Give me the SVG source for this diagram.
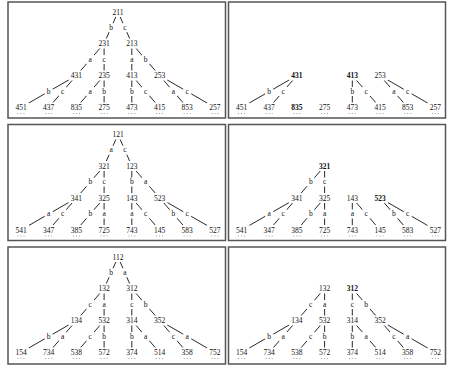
<svg xmlns="http://www.w3.org/2000/svg" width="449" height="368" viewBox="0 0 449 368">
<style>
.frame{fill:#fff;stroke:#555;stroke-width:1.5}
.edge{fill:none;stroke:#111;stroke-width:0.9}
.bx{fill:#fff}
.dot{fill:none;stroke:#888;stroke-width:0.8;stroke-dasharray:1 2}
text{font-family:"Liberation Serif","Times New Roman",serif;font-size:7.5px;fill:#111;text-anchor:middle}
.bold{font-weight:bold}
</style>
<rect width="449" height="368" fill="#fff"/>

<!-- Panel 1 -->
<g id="panel1">
<rect class="frame" x="8" y="2" width="217.5" height="116"/>
<g id="p1-connectors">
<path class="edge" d="M118,12L104.1,43.5M118,12L131.8,43.5M104.1,43.5L76.4,75.5M104.1,43.5L104.1,75.5M131.8,43.5L131.8,75.5M131.8,43.5L159.5,75.5M76.4,75.5L21,107.5M76.4,75.5L48.7,107.5M104.1,75.5L76.4,107.5M104.1,75.5L104.1,107.5M131.8,75.5L131.8,107.5M131.8,75.5L159.5,107.5M159.5,75.5L187.2,107.5M159.5,75.5L214.9,107.5"/>
</g>
<g id="p1-labels">
<rect class="bx" x="107.1" y="23.2" width="8" height="9"/><text x="111.05" y="29.8">b</text>
<rect class="bx" x="120.9" y="23.2" width="8" height="9"/><text x="124.9" y="29.8">c</text>
<rect class="bx" x="86.25" y="55" width="8" height="9"/><text x="90.25" y="61.5">a</text>
<rect class="bx" x="100.1" y="55" width="8" height="9"/><text x="104.1" y="61.5">c</text>
<rect class="bx" x="127.8" y="55" width="8" height="9"/><text x="131.8" y="61.5">a</text>
<rect class="bx" x="141.65" y="55" width="8" height="9"/><text x="145.65" y="61.5">b</text>
<rect class="bx" x="44.7" y="87" width="8" height="9"/><text x="48.7" y="93.5">b</text>
<rect class="bx" x="58.55" y="87" width="8" height="9"/><text x="62.55" y="93.5">c</text>
<rect class="bx" x="86.25" y="87" width="8" height="9"/><text x="90.25" y="93.5">a</text>
<rect class="bx" x="100.1" y="87" width="8" height="9"/><text x="104.1" y="93.5">b</text>
<rect class="bx" x="127.8" y="87" width="8" height="9"/><text x="131.8" y="93.5">b</text>
<rect class="bx" x="141.65" y="87" width="8" height="9"/><text x="145.65" y="93.5">c</text>
<rect class="bx" x="169.35" y="87" width="8" height="9"/><text x="173.35" y="93.5">a</text>
<rect class="bx" x="183.2" y="87" width="8" height="9"/><text x="187.2" y="93.5">c</text>
</g>
<g id="p1-n211"><rect class="bx" x="110" y="7" width="16" height="10"/><text x="118" y="14.6">211</text></g>
<g id="p1-n231"><rect class="bx" x="96.1" y="38.5" width="16" height="10"/><text x="104.1" y="46.1">231</text></g>
<g id="p1-n213"><rect class="bx" x="123.8" y="38.5" width="16" height="10"/><text x="131.8" y="46.1">213</text></g>
<g id="p1-n431"><rect class="bx" x="68.4" y="70.5" width="16" height="10"/><text x="76.4" y="78.1">431</text></g>
<g id="p1-n235"><rect class="bx" x="96.1" y="70.5" width="16" height="10"/><text x="104.1" y="78.1">235</text></g>
<g id="p1-n413"><rect class="bx" x="123.8" y="70.5" width="16" height="10"/><text x="131.8" y="78.1">413</text></g>
<g id="p1-n253"><rect class="bx" x="151.5" y="70.5" width="16" height="10"/><text x="159.5" y="78.1">253</text></g>
<g id="p1-n451"><rect class="bx" x="13" y="102.5" width="16" height="10"/><text x="21" y="110.1">451</text><path class="dot" d="M17.5,113.5h7"/></g>
<g id="p1-n437"><rect class="bx" x="40.7" y="102.5" width="16" height="10"/><text x="48.7" y="110.1">437</text><path class="dot" d="M45.2,113.5h7"/></g>
<g id="p1-n835"><rect class="bx" x="68.4" y="102.5" width="16" height="10"/><text x="76.4" y="110.1">835</text><path class="dot" d="M72.9,113.5h7"/></g>
<g id="p1-n275"><rect class="bx" x="96.1" y="102.5" width="16" height="10"/><text x="104.1" y="110.1">275</text><path class="dot" d="M100.6,113.5h7"/></g>
<g id="p1-n473"><rect class="bx" x="123.8" y="102.5" width="16" height="10"/><text x="131.8" y="110.1">473</text><path class="dot" d="M128.3,113.5h7"/></g>
<g id="p1-n415"><rect class="bx" x="151.5" y="102.5" width="16" height="10"/><text x="159.5" y="110.1">415</text><path class="dot" d="M156,113.5h7"/></g>
<g id="p1-n853"><rect class="bx" x="179.2" y="102.5" width="16" height="10"/><text x="187.2" y="110.1">853</text><path class="dot" d="M183.7,113.5h7"/></g>
<g id="p1-n257"><rect class="bx" x="206.9" y="102.5" width="16" height="10"/><text x="214.9" y="110.1">257</text><path class="dot" d="M211.4,113.5h7"/></g>
</g>

<!-- Panel 2 -->
<g id="panel2" transform="translate(220.5,0)">
<rect class="frame" x="8" y="2" width="217" height="116"/>
<g id="p2-connectors">
<path class="edge" d="M76.4,75.5L21,107.5M76.4,75.5L48.7,107.5M131.8,75.5L131.8,107.5M131.8,75.5L159.5,107.5M159.5,75.5L187.2,107.5M159.5,75.5L214.9,107.5"/>
</g>
<g id="p2-labels">
<rect class="bx" x="44.7" y="87" width="8" height="9"/><text x="48.7" y="93.5">b</text>
<rect class="bx" x="58.55" y="87" width="8" height="9"/><text x="62.55" y="93.5">c</text>
<rect class="bx" x="127.8" y="87" width="8" height="9"/><text x="131.8" y="93.5">b</text>
<rect class="bx" x="141.65" y="87" width="8" height="9"/><text x="145.65" y="93.5">c</text>
<rect class="bx" x="169.35" y="87" width="8" height="9"/><text x="173.35" y="93.5">a</text>
<rect class="bx" x="183.2" y="87" width="8" height="9"/><text x="187.2" y="93.5">c</text>
</g>
<g id="p2-n431"><rect class="bx" x="68.4" y="70.5" width="16" height="10"/><text class="bold" x="76.4" y="78.1">431</text></g>
<g id="p2-n413"><rect class="bx" x="123.8" y="70.5" width="16" height="10"/><text class="bold" x="131.8" y="78.1">413</text></g>
<g id="p2-n253"><rect class="bx" x="151.5" y="70.5" width="16" height="10"/><text x="159.5" y="78.1">253</text></g>
<g id="p2-n451"><rect class="bx" x="13" y="102.5" width="16" height="10"/><text x="21" y="110.1">451</text><path class="dot" d="M17.5,113.5h7"/></g>
<g id="p2-n437"><rect class="bx" x="40.7" y="102.5" width="16" height="10"/><text x="48.7" y="110.1">437</text><path class="dot" d="M45.2,113.5h7"/></g>
<g id="p2-n835"><rect class="bx" x="68.4" y="102.5" width="16" height="10"/><text class="bold" x="76.4" y="110.1">835</text><path class="dot" d="M72.9,113.5h7"/></g>
<g id="p2-n275"><rect class="bx" x="96.1" y="102.5" width="16" height="10"/><text x="104.1" y="110.1">275</text><path class="dot" d="M100.6,113.5h7"/></g>
<g id="p2-n473"><rect class="bx" x="123.8" y="102.5" width="16" height="10"/><text x="131.8" y="110.1">473</text><path class="dot" d="M128.3,113.5h7"/></g>
<g id="p2-n415"><rect class="bx" x="151.5" y="102.5" width="16" height="10"/><text x="159.5" y="110.1">415</text><path class="dot" d="M156,113.5h7"/></g>
<g id="p2-n853"><rect class="bx" x="179.2" y="102.5" width="16" height="10"/><text x="187.2" y="110.1">853</text><path class="dot" d="M183.7,113.5h7"/></g>
<g id="p2-n257"><rect class="bx" x="206.9" y="102.5" width="16" height="10"/><text x="214.9" y="110.1">257</text><path class="dot" d="M211.4,113.5h7"/></g>
</g>

<!-- Panel 3 -->
<g id="panel3" transform="translate(0,122.5)">
<rect class="frame" x="8" y="2" width="217.5" height="116"/>
<g id="p3-connectors">
<path class="edge" d="M118,12L104.1,43.5M118,12L131.8,43.5M104.1,43.5L76.4,75.5M104.1,43.5L104.1,75.5M131.8,43.5L131.8,75.5M131.8,43.5L159.5,75.5M76.4,75.5L21,107.5M76.4,75.5L48.7,107.5M104.1,75.5L76.4,107.5M104.1,75.5L104.1,107.5M131.8,75.5L131.8,107.5M131.8,75.5L159.5,107.5M159.5,75.5L187.2,107.5M159.5,75.5L214.9,107.5"/>
</g>
<g id="p3-labels">
<rect class="bx" x="107.1" y="23.2" width="8" height="9"/><text x="111.05" y="29.8">a</text>
<rect class="bx" x="120.9" y="23.2" width="8" height="9"/><text x="124.9" y="29.8">c</text>
<rect class="bx" x="86.25" y="55" width="8" height="9"/><text x="90.25" y="61.5">b</text>
<rect class="bx" x="100.1" y="55" width="8" height="9"/><text x="104.1" y="61.5">c</text>
<rect class="bx" x="127.8" y="55" width="8" height="9"/><text x="131.8" y="61.5">b</text>
<rect class="bx" x="141.65" y="55" width="8" height="9"/><text x="145.65" y="61.5">a</text>
<rect class="bx" x="44.7" y="87" width="8" height="9"/><text x="48.7" y="93.5">a</text>
<rect class="bx" x="58.55" y="87" width="8" height="9"/><text x="62.55" y="93.5">c</text>
<rect class="bx" x="86.25" y="87" width="8" height="9"/><text x="90.25" y="93.5">b</text>
<rect class="bx" x="100.1" y="87" width="8" height="9"/><text x="104.1" y="93.5">a</text>
<rect class="bx" x="127.8" y="87" width="8" height="9"/><text x="131.8" y="93.5">a</text>
<rect class="bx" x="141.65" y="87" width="8" height="9"/><text x="145.65" y="93.5">c</text>
<rect class="bx" x="169.35" y="87" width="8" height="9"/><text x="173.35" y="93.5">b</text>
<rect class="bx" x="183.2" y="87" width="8" height="9"/><text x="187.2" y="93.5">c</text>
</g>
<g id="p3-n121"><rect class="bx" x="110" y="7" width="16" height="10"/><text x="118" y="14.6">121</text></g>
<g id="p3-n321"><rect class="bx" x="96.1" y="38.5" width="16" height="10"/><text x="104.1" y="46.1">321</text></g>
<g id="p3-n123"><rect class="bx" x="123.8" y="38.5" width="16" height="10"/><text x="131.8" y="46.1">123</text></g>
<g id="p3-n341"><rect class="bx" x="68.4" y="70.5" width="16" height="10"/><text x="76.4" y="78.1">341</text></g>
<g id="p3-n325"><rect class="bx" x="96.1" y="70.5" width="16" height="10"/><text x="104.1" y="78.1">325</text></g>
<g id="p3-n143"><rect class="bx" x="123.8" y="70.5" width="16" height="10"/><text x="131.8" y="78.1">143</text></g>
<g id="p3-n523"><rect class="bx" x="151.5" y="70.5" width="16" height="10"/><text x="159.5" y="78.1">523</text></g>
<g id="p3-n541"><rect class="bx" x="13" y="102.5" width="16" height="10"/><text x="21" y="110.1">541</text><path class="dot" d="M17.5,113.5h7"/></g>
<g id="p3-n347"><rect class="bx" x="40.7" y="102.5" width="16" height="10"/><text x="48.7" y="110.1">347</text><path class="dot" d="M45.2,113.5h7"/></g>
<g id="p3-n385"><rect class="bx" x="68.4" y="102.5" width="16" height="10"/><text x="76.4" y="110.1">385</text><path class="dot" d="M72.9,113.5h7"/></g>
<g id="p3-n725"><rect class="bx" x="96.1" y="102.5" width="16" height="10"/><text x="104.1" y="110.1">725</text><path class="dot" d="M100.6,113.5h7"/></g>
<g id="p3-n743"><rect class="bx" x="123.8" y="102.5" width="16" height="10"/><text x="131.8" y="110.1">743</text><path class="dot" d="M128.3,113.5h7"/></g>
<g id="p3-n145"><rect class="bx" x="151.5" y="102.5" width="16" height="10"/><text x="159.5" y="110.1">145</text><path class="dot" d="M156,113.5h7"/></g>
<g id="p3-n583"><rect class="bx" x="179.2" y="102.5" width="16" height="10"/><text x="187.2" y="110.1">583</text><path class="dot" d="M183.7,113.5h7"/></g>
<g id="p3-n527"><rect class="bx" x="206.9" y="102.5" width="16" height="10"/><text x="214.9" y="110.1">527</text><path class="dot" d="M211.4,113.5h7"/></g>
</g>

<!-- Panel 4 -->
<g id="panel4" transform="translate(220.5,122.5)">
<rect class="frame" x="8" y="2" width="217" height="116"/>
<g id="p4-connectors">
<path class="edge" d="M104.1,43.5L76.4,75.5M104.1,43.5L104.1,75.5M76.4,75.5L21,107.5M76.4,75.5L48.7,107.5M104.1,75.5L76.4,107.5M104.1,75.5L104.1,107.5M131.8,75.5L131.8,107.5M131.8,75.5L159.5,107.5M159.5,75.5L187.2,107.5M159.5,75.5L214.9,107.5"/>
</g>
<g id="p4-labels">
<rect class="bx" x="86.25" y="55" width="8" height="9"/><text x="90.25" y="61.5">b</text>
<rect class="bx" x="100.1" y="55" width="8" height="9"/><text x="104.1" y="61.5">c</text>
<rect class="bx" x="44.7" y="87" width="8" height="9"/><text x="48.7" y="93.5">a</text>
<rect class="bx" x="58.55" y="87" width="8" height="9"/><text x="62.55" y="93.5">c</text>
<rect class="bx" x="86.25" y="87" width="8" height="9"/><text x="90.25" y="93.5">b</text>
<rect class="bx" x="100.1" y="87" width="8" height="9"/><text x="104.1" y="93.5">a</text>
<rect class="bx" x="127.8" y="87" width="8" height="9"/><text x="131.8" y="93.5">a</text>
<rect class="bx" x="141.65" y="87" width="8" height="9"/><text x="145.65" y="93.5">c</text>
<rect class="bx" x="169.35" y="87" width="8" height="9"/><text x="173.35" y="93.5">b</text>
<rect class="bx" x="183.2" y="87" width="8" height="9"/><text x="187.2" y="93.5">c</text>
</g>
<g id="p4-n321"><rect class="bx" x="96.1" y="38.5" width="16" height="10"/><text class="bold" x="104.1" y="46.1">321</text></g>
<g id="p4-n341"><rect class="bx" x="68.4" y="70.5" width="16" height="10"/><text x="76.4" y="78.1">341</text></g>
<g id="p4-n325"><rect class="bx" x="96.1" y="70.5" width="16" height="10"/><text x="104.1" y="78.1">325</text></g>
<g id="p4-n143"><rect class="bx" x="123.8" y="70.5" width="16" height="10"/><text x="131.8" y="78.1">143</text></g>
<g id="p4-n523"><rect class="bx" x="151.5" y="70.5" width="16" height="10"/><text class="bold" x="159.5" y="78.1">523</text></g>
<g id="p4-n541"><rect class="bx" x="13" y="102.5" width="16" height="10"/><text x="21" y="110.1">541</text><path class="dot" d="M17.5,113.5h7"/></g>
<g id="p4-n347"><rect class="bx" x="40.7" y="102.5" width="16" height="10"/><text x="48.7" y="110.1">347</text><path class="dot" d="M45.2,113.5h7"/></g>
<g id="p4-n385"><rect class="bx" x="68.4" y="102.5" width="16" height="10"/><text x="76.4" y="110.1">385</text><path class="dot" d="M72.9,113.5h7"/></g>
<g id="p4-n725"><rect class="bx" x="96.1" y="102.5" width="16" height="10"/><text x="104.1" y="110.1">725</text><path class="dot" d="M100.6,113.5h7"/></g>
<g id="p4-n743"><rect class="bx" x="123.8" y="102.5" width="16" height="10"/><text x="131.8" y="110.1">743</text><path class="dot" d="M128.3,113.5h7"/></g>
<g id="p4-n145"><rect class="bx" x="151.5" y="102.5" width="16" height="10"/><text x="159.5" y="110.1">145</text><path class="dot" d="M156,113.5h7"/></g>
<g id="p4-n583"><rect class="bx" x="179.2" y="102.5" width="16" height="10"/><text x="187.2" y="110.1">583</text><path class="dot" d="M183.7,113.5h7"/></g>
<g id="p4-n527"><rect class="bx" x="206.9" y="102.5" width="16" height="10"/><text x="214.9" y="110.1">527</text><path class="dot" d="M211.4,113.5h7"/></g>
</g>

<!-- Panel 5 -->
<g id="panel5" transform="translate(0,245)">
<rect class="frame" x="8" y="2" width="217.5" height="117"/>
<g id="p5-connectors">
<path class="edge" d="M118,12L104.1,43.5M118,12L131.8,43.5M104.1,43.5L76.4,75.5M104.1,43.5L104.1,75.5M131.8,43.5L131.8,75.5M131.8,43.5L159.5,75.5M76.4,75.5L21,107.5M76.4,75.5L48.7,107.5M104.1,75.5L76.4,107.5M104.1,75.5L104.1,107.5M131.8,75.5L131.8,107.5M131.8,75.5L159.5,107.5M159.5,75.5L187.2,107.5M159.5,75.5L214.9,107.5"/>
</g>
<g id="p5-labels">
<rect class="bx" x="107.1" y="23.2" width="8" height="9"/><text x="111.05" y="29.8">b</text>
<rect class="bx" x="120.9" y="23.2" width="8" height="9"/><text x="124.9" y="29.8">a</text>
<rect class="bx" x="86.25" y="55" width="8" height="9"/><text x="90.25" y="61.5">c</text>
<rect class="bx" x="100.1" y="55" width="8" height="9"/><text x="104.1" y="61.5">a</text>
<rect class="bx" x="127.8" y="55" width="8" height="9"/><text x="131.8" y="61.5">c</text>
<rect class="bx" x="141.65" y="55" width="8" height="9"/><text x="145.65" y="61.5">b</text>
<rect class="bx" x="44.7" y="87" width="8" height="9"/><text x="48.7" y="93.5">b</text>
<rect class="bx" x="58.55" y="87" width="8" height="9"/><text x="62.55" y="93.5">a</text>
<rect class="bx" x="86.25" y="87" width="8" height="9"/><text x="90.25" y="93.5">c</text>
<rect class="bx" x="100.1" y="87" width="8" height="9"/><text x="104.1" y="93.5">b</text>
<rect class="bx" x="127.8" y="87" width="8" height="9"/><text x="131.8" y="93.5">b</text>
<rect class="bx" x="141.65" y="87" width="8" height="9"/><text x="145.65" y="93.5">a</text>
<rect class="bx" x="169.35" y="87" width="8" height="9"/><text x="173.35" y="93.5">c</text>
<rect class="bx" x="183.2" y="87" width="8" height="9"/><text x="187.2" y="93.5">a</text>
</g>
<g id="p5-n112"><rect class="bx" x="110" y="7" width="16" height="10"/><text x="118" y="14.6">112</text></g>
<g id="p5-n132"><rect class="bx" x="96.1" y="38.5" width="16" height="10"/><text x="104.1" y="46.1">132</text></g>
<g id="p5-n312"><rect class="bx" x="123.8" y="38.5" width="16" height="10"/><text x="131.8" y="46.1">312</text></g>
<g id="p5-n134"><rect class="bx" x="68.4" y="70.5" width="16" height="10"/><text x="76.4" y="78.1">134</text></g>
<g id="p5-n532"><rect class="bx" x="96.1" y="70.5" width="16" height="10"/><text x="104.1" y="78.1">532</text></g>
<g id="p5-n314"><rect class="bx" x="123.8" y="70.5" width="16" height="10"/><text x="131.8" y="78.1">314</text></g>
<g id="p5-n352"><rect class="bx" x="151.5" y="70.5" width="16" height="10"/><text x="159.5" y="78.1">352</text></g>
<g id="p5-n154"><rect class="bx" x="13" y="102.5" width="16" height="10"/><text x="21" y="110.1">154</text><path class="dot" d="M17.5,113.5h7"/></g>
<g id="p5-n734"><rect class="bx" x="40.7" y="102.5" width="16" height="10"/><text x="48.7" y="110.1">734</text><path class="dot" d="M45.2,113.5h7"/></g>
<g id="p5-n538"><rect class="bx" x="68.4" y="102.5" width="16" height="10"/><text x="76.4" y="110.1">538</text><path class="dot" d="M72.9,113.5h7"/></g>
<g id="p5-n572"><rect class="bx" x="96.1" y="102.5" width="16" height="10"/><text x="104.1" y="110.1">572</text><path class="dot" d="M100.6,113.5h7"/></g>
<g id="p5-n374"><rect class="bx" x="123.8" y="102.5" width="16" height="10"/><text x="131.8" y="110.1">374</text><path class="dot" d="M128.3,113.5h7"/></g>
<g id="p5-n514"><rect class="bx" x="151.5" y="102.5" width="16" height="10"/><text x="159.5" y="110.1">514</text><path class="dot" d="M156,113.5h7"/></g>
<g id="p5-n358"><rect class="bx" x="179.2" y="102.5" width="16" height="10"/><text x="187.2" y="110.1">358</text><path class="dot" d="M183.7,113.5h7"/></g>
<g id="p5-n752"><rect class="bx" x="206.9" y="102.5" width="16" height="10"/><text x="214.9" y="110.1">752</text><path class="dot" d="M211.4,113.5h7"/></g>
</g>

<!-- Panel 6 -->
<g id="panel6" transform="translate(220.5,245)">
<rect class="frame" x="8" y="2" width="217" height="117"/>
<g id="p6-connectors">
<path class="edge" d="M104.1,43.5L76.4,75.5M104.1,43.5L104.1,75.5M131.8,43.5L131.8,75.5M131.8,43.5L159.5,75.5M76.4,75.5L21,107.5M76.4,75.5L48.7,107.5M104.1,75.5L76.4,107.5M104.1,75.5L104.1,107.5M131.8,75.5L131.8,107.5M131.8,75.5L159.5,107.5M159.5,75.5L187.2,107.5M159.5,75.5L214.9,107.5"/>
</g>
<g id="p6-labels">
<rect class="bx" x="86.25" y="55" width="8" height="9"/><text x="90.25" y="61.5">c</text>
<rect class="bx" x="100.1" y="55" width="8" height="9"/><text x="104.1" y="61.5">a</text>
<rect class="bx" x="127.8" y="55" width="8" height="9"/><text x="131.8" y="61.5">c</text>
<rect class="bx" x="141.65" y="55" width="8" height="9"/><text x="145.65" y="61.5">b</text>
<rect class="bx" x="44.7" y="87" width="8" height="9"/><text x="48.7" y="93.5">b</text>
<rect class="bx" x="58.55" y="87" width="8" height="9"/><text x="62.55" y="93.5">a</text>
<rect class="bx" x="86.25" y="87" width="8" height="9"/><text x="90.25" y="93.5">c</text>
<rect class="bx" x="100.1" y="87" width="8" height="9"/><text x="104.1" y="93.5">b</text>
<rect class="bx" x="127.8" y="87" width="8" height="9"/><text x="131.8" y="93.5">b</text>
<rect class="bx" x="141.65" y="87" width="8" height="9"/><text x="145.65" y="93.5">a</text>
<rect class="bx" x="169.35" y="87" width="8" height="9"/><text x="173.35" y="93.5">c</text>
<rect class="bx" x="183.2" y="87" width="8" height="9"/><text x="187.2" y="93.5">a</text>
</g>
<g id="p6-n132"><rect class="bx" x="96.1" y="38.5" width="16" height="10"/><text x="104.1" y="46.1">132</text></g>
<g id="p6-n312"><rect class="bx" x="123.8" y="38.5" width="16" height="10"/><text class="bold" x="131.8" y="46.1">312</text></g>
<g id="p6-n134"><rect class="bx" x="68.4" y="70.5" width="16" height="10"/><text x="76.4" y="78.1">134</text></g>
<g id="p6-n532"><rect class="bx" x="96.1" y="70.5" width="16" height="10"/><text x="104.1" y="78.1">532</text></g>
<g id="p6-n314"><rect class="bx" x="123.8" y="70.5" width="16" height="10"/><text x="131.8" y="78.1">314</text></g>
<g id="p6-n352"><rect class="bx" x="151.5" y="70.5" width="16" height="10"/><text x="159.5" y="78.1">352</text></g>
<g id="p6-n154"><rect class="bx" x="13" y="102.5" width="16" height="10"/><text x="21" y="110.1">154</text><path class="dot" d="M17.5,113.5h7"/></g>
<g id="p6-n734"><rect class="bx" x="40.7" y="102.5" width="16" height="10"/><text x="48.7" y="110.1">734</text><path class="dot" d="M45.2,113.5h7"/></g>
<g id="p6-n538"><rect class="bx" x="68.4" y="102.5" width="16" height="10"/><text x="76.4" y="110.1">538</text><path class="dot" d="M72.9,113.5h7"/></g>
<g id="p6-n572"><rect class="bx" x="96.1" y="102.5" width="16" height="10"/><text x="104.1" y="110.1">572</text><path class="dot" d="M100.6,113.5h7"/></g>
<g id="p6-n374"><rect class="bx" x="123.8" y="102.5" width="16" height="10"/><text x="131.8" y="110.1">374</text><path class="dot" d="M128.3,113.5h7"/></g>
<g id="p6-n514"><rect class="bx" x="151.5" y="102.5" width="16" height="10"/><text x="159.5" y="110.1">514</text><path class="dot" d="M156,113.5h7"/></g>
<g id="p6-n358"><rect class="bx" x="179.2" y="102.5" width="16" height="10"/><text x="187.2" y="110.1">358</text><path class="dot" d="M183.7,113.5h7"/></g>
<g id="p6-n752"><rect class="bx" x="206.9" y="102.5" width="16" height="10"/><text x="214.9" y="110.1">752</text><path class="dot" d="M211.4,113.5h7"/></g>
</g>
</svg>
